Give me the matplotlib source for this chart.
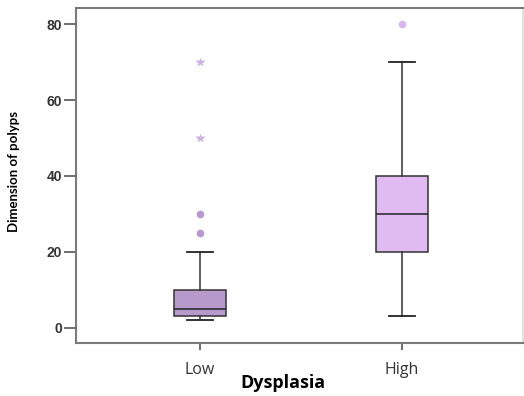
"""
Boxplot: dimension of polyps by dysplasia grade (SPSS look).
"""

import matplotlib
matplotlib.use("Agg")
import matplotlib.pyplot as plt

# five-number summaries
GROUPS    = ["Low", "High"]
MEDIANS   = [5, 30]
Q1        = [3, 20]
Q3        = [10, 40]
WHIS_LO   = [2, 3]
WHIS_HI   = [20, 70]
# outliers (circles) and extremes (stars)
OUTLIERS  = [[25, 30], [80]]
EXTREMES  = [[50, 70], []]

BOX_COLORS = ["#b69acb", "#dfbbf2"]
PT_COLORS  = ["#b898d2", "#dab4f2"]
STAR_COLOR = "#cdb3e3"

def main():
    fig, ax = plt.subplots(figsize=(5.24, 3.96), dpi=100)
    fig.subplots_adjust(left=0.145, right=0.998, top=0.98, bottom=0.135)

    stats = []
    for i, g in enumerate(GROUPS):
        stats.append({"label": g, "med": MEDIANS[i], "q1": Q1[i], "q3": Q3[i],
                      "whislo": WHIS_LO[i], "whishi": WHIS_HI[i], "fliers": []})

    bp = ax.bxp(stats, positions=[1, 2], widths=0.26, patch_artist=True,
                showfliers=False,
                boxprops={"edgecolor": "#333333", "linewidth": 1.1},
                medianprops={"color": "#222222", "linewidth": 1.1},
                whiskerprops={"color": "#333333", "linewidth": 1.1},
                capprops={"color": "#222222", "linewidth": 1.3},
                capwidths=0.13)
    for patch, c in zip(bp["boxes"], BOX_COLORS):
        patch.set_facecolor(c)

    for i in range(len(GROUPS)):
        if OUTLIERS[i]:
            ax.plot([i + 1] * len(OUTLIERS[i]), OUTLIERS[i], "o", ms=5.5,
                    color=PT_COLORS[i], mec="none")
        if EXTREMES[i]:
            ax.plot([i + 1] * len(EXTREMES[i]), EXTREMES[i], "*", ms=7,
                    color=STAR_COLOR, mec="none")

    ax.set_xlim(0.385, 2.6)
    ax.set_ylim(-3.9, 84.3)
    ax.set_yticks([0, 20, 40, 60, 80])
    ax.set_xticks([1, 2])
    ax.set_xticklabels(GROUPS, fontfamily="Open Sans", fontsize=11.5, color="#333333")
    for t in ax.get_yticklabels():
        t.set_fontfamily("Liberation Sans")
        t.set_fontweight("bold")
        t.set_fontsize(10)
        t.set_color("#333333")

    ax.tick_params(axis="y", length=9, width=1.2, color="#555555", pad=1)
    ax.tick_params(axis="x", length=5, width=1.2, color="#555555", pad=9)

    for s in ["left", "top", "bottom"]:
        ax.spines[s].set_color("#7a7a7a")
        ax.spines[s].set_linewidth(1.5)
    ax.spines["right"].set_color("#dddddd")
    ax.spines["right"].set_linewidth(1.2)

    ax.set_ylabel("Dimension of polyps", fontfamily="Lato",
                  fontweight="bold", fontsize=9.5)
    ax.yaxis.set_label_coords(-0.125, 0.51)
    ax.set_xlabel("Dysplasia", fontfamily="Open Sans", fontweight="bold",
                  fontsize=13)
    ax.xaxis.set_label_coords(0.463, -0.095)

    fig.savefig("out.png", dpi=100)

if __name__ == "__main__":
    main()
